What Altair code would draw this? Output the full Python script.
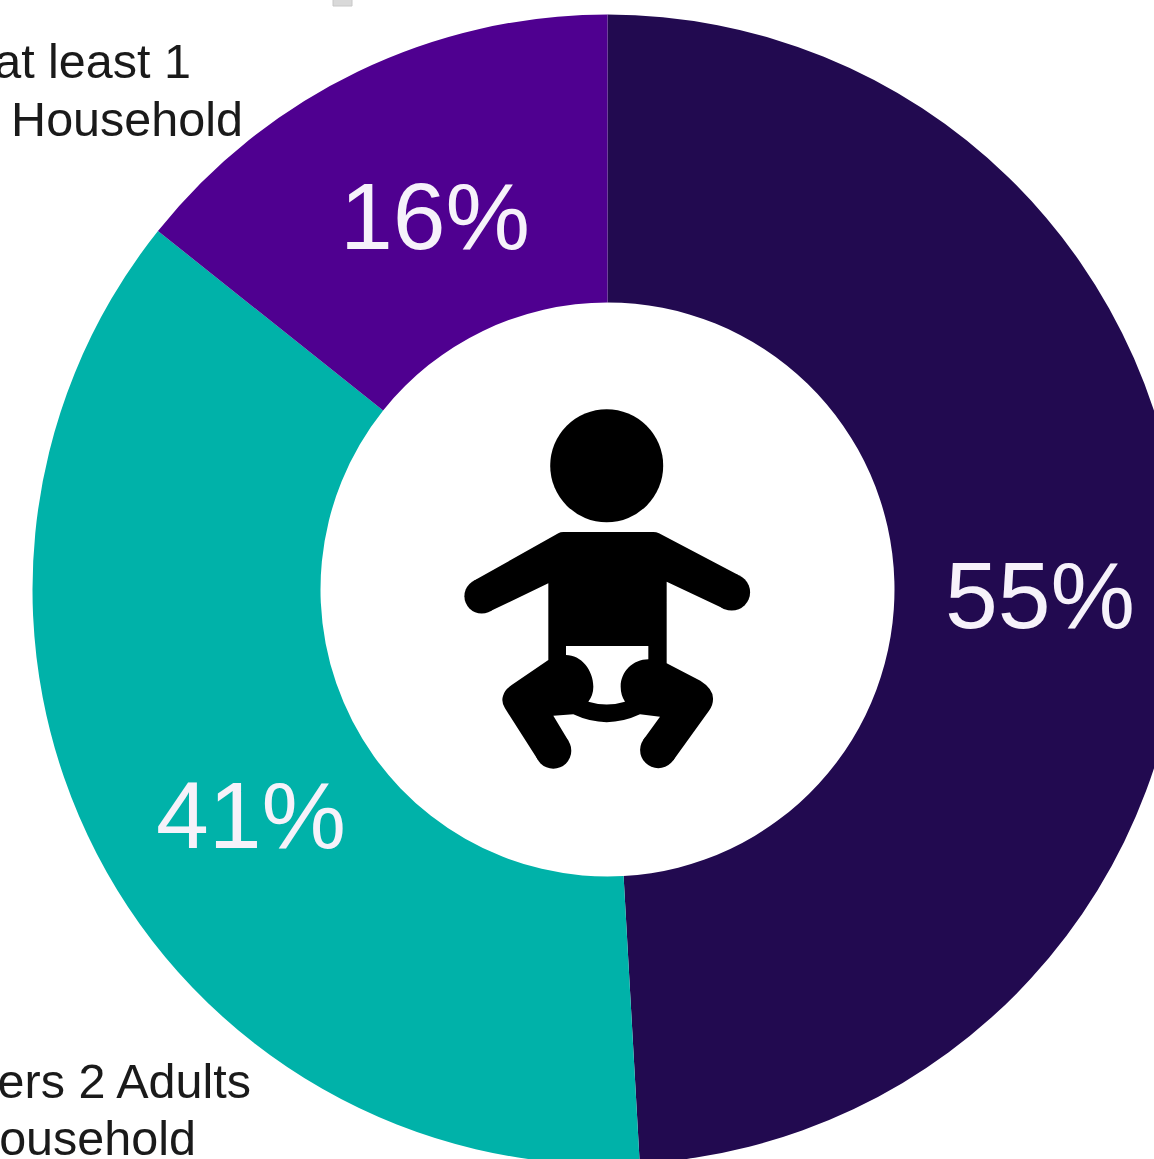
import re
import altair as alt
import pandas as pd

# Share of households by slice, clockwise from twelve o'clock
segments = ["Adults only", "2 adults", "At least 1"]
shares = [55, 41, 16]
slice_colors = ["#220A50", "#00B2A9", "#4F0090"]

caption_lines = ["at least 1", "Household", "ers 2 Adults", "Household"]

W, H = 1154, 1159
CX, CY = 607.5, 589.5
OUTER, INNER = 575, 287

df = pd.DataFrame({"segment": segments, "share": shares, "rank": [0, 1, 2]})

donut = (
    alt.Chart(df)
    .mark_arc(outerRadius=OUTER, innerRadius=INNER)
    .encode(
        x=alt.value(CX),
        y=alt.value(CY),
        theta=alt.Theta("share:Q", stack=True),
        order=alt.Order("rank:Q"),
        color=alt.Color(
            "segment:N",
            scale=alt.Scale(domain=segments, range=slice_colors),
            legend=None,
        ),
    )
)

# Percentage labels inside each ring segment
label_anchor = {"Adults only": (1040, 628), "2 adults": (251, 848), "At least 1": (435, 249)}
pct_layers = []
for seg, val in zip(segments, shares):
    px, py = label_anchor[seg]
    pct_layers.append(
        alt.Chart(pd.DataFrame({"t": [f"{val}%"]}))
        .mark_text(font="Liberation Sans", fontSize=95, color="#F6F2FA", align="center", baseline="alphabetic")
        .encode(text="t:N", x=alt.value(px), y=alt.value(py))
    )

# Outer captions, right-aligned so that long lines run off the left edge
caption_anchor = [(191, 78), (243, 136), (251, 1098), (196, 1155)]
cap_layers = []
for line, (px, py) in zip(caption_lines, caption_anchor):
    cap_layers.append(
        alt.Chart(pd.DataFrame({"t": [line]}))
        .mark_text(font="Liberation Sans", fontSize=48.5, color="#1A1A1A", align="right", baseline="alphabetic")
        .encode(text="t:N", x=alt.value(px), y=alt.value(py))
    )


def to_screen(path):
    """Shrink a glyph from its design grid to screen pixels."""
    return re.sub(r"-?\d+", lambda m: f"{int(m.group()) / 3:.2f}", path)


# Baby pictogram: torso and limbs on a grid three times finer than the screen,
# with round discs for the head, hands and feet
BODY = to_screen(
    "M-131,-174 L139,-174 Q148,-174 156,-170 L394,-45 L354,58 L179,-25 L179,220 "
    "L280,272 Q318,296 318,325 Q319,345 306,362 L199,511 L109,449 L159,380 L99,373 "
    "Q-1,420 -101,373 L-161,377 L-115,454 L-207,510 L-306,355 Q-318,335 -312,318 "
    "Q-308,300 -286,285 L-176,210 L-176,-20 L-351,64 L-401,-27 L-146,-170 Q-140,-174 -131,-174 Z"
)
DIAPER = to_screen(
    "M-123,168 L124,168 L124,208 C78,208 41,245 41,290 Q41,315 54,335 Q-1,352 -56,335 "
    "Q-41,315 -41,290 C-41,240 -78,195 -123,195 Z"
)
icon_df = pd.DataFrame({"k": [0]})


def disc(px, py, radius):
    return (
        alt.Chart(icon_df)
        .mark_circle(size=(2 * radius) ** 2, color="#000000", opacity=1)
        .encode(x=alt.value(px), y=alt.value(py))
    )


discs = [
    disc(606.7, 465.7, 56.5),
    disc(731.7, 592.2, 18.4),
    disc(481.7, 596.2, 17.3),
    disc(658.3, 750.0, 18.2),
    disc(553.3, 750.7, 18.0),
]
icon_layers = [
    alt.Chart(icon_df)
    .mark_point(shape=path, size=4, filled=True, fill=fill, opacity=1, strokeWidth=0)
    .encode(x=alt.value(607), y=alt.value(590))
    for path, fill in [(BODY, "#000000"), (DIAPER, "#FFFFFF")]
]

# Small grey tab at the top edge
tab = (
    alt.Chart(icon_df)
    .mark_rect(fill="#D9D9D9", stroke="#C8C8C8", strokeWidth=1)
    .encode(x=alt.value(333), x2=alt.value(352), y=alt.value(-4), y2=alt.value(6))
)

chart = (
    alt.layer(tab, donut, *discs, *icon_layers, *pct_layers, *cap_layers)
    .properties(
        width=W,
        height=H,
        padding=0,
        background="#FFFFFF",
        autosize=alt.AutoSizeParams(type="none", contains="content"),
    )
    .configure_view(stroke=None)
)

chart.save("out.html", embed_options={"renderer": "svg", "actions": False})
